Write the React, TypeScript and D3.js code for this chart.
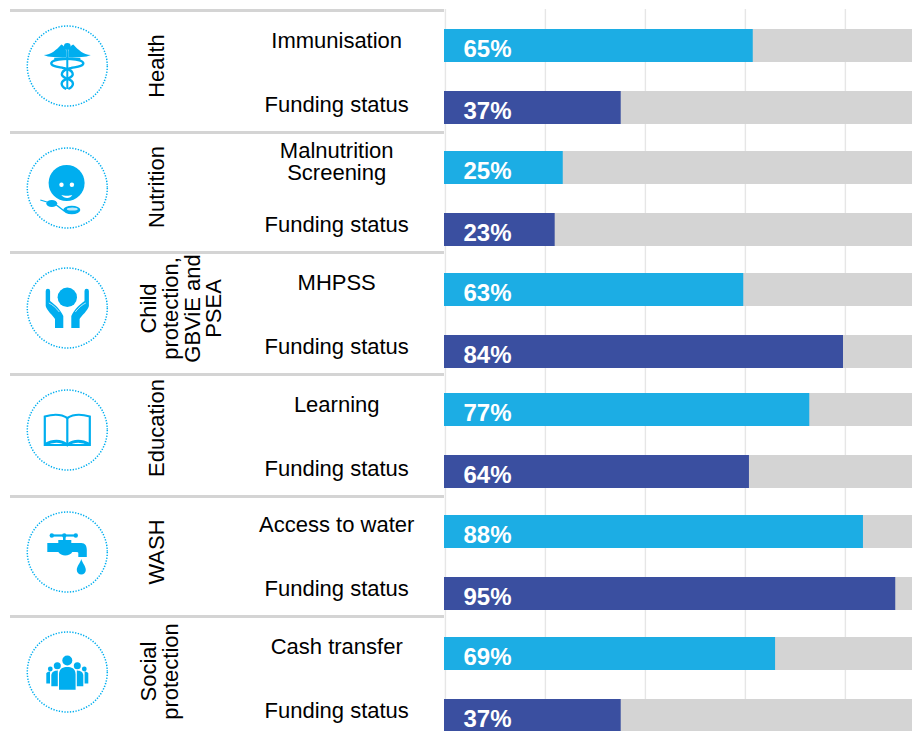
import React from "react";
import * as d3 from "d3";

const sectorLines = [["Health"], ["Nutrition"], ["Child", "protection,", "GBViE and", "PSEA"], ["Education"], ["WASH"], ["Social", "protection"]];
const indicatorLines = [["Immunisation"], ["Malnutrition", "Screening"], ["MHPSS"], ["Learning"], ["Access to water"], ["Cash transfer"]];
const fundingLabel = "Funding status";
const indicatorValues = [65, 25, 63, 76.9, 88.2, 69.7];
const fundingValues = [37.2, 23.3, 84, 64.2, 95, 37.2];
const indicatorText = ["65%", "25%", "63%", "77%", "88%", "69%"];
const fundingText = ["37%", "23%", "84%", "64%", "95%", "37%"];
const gridTicks = [0.3, 21.35, 42.4, 63.45, 84.5];

const CYAN = "#1cade4";
const NAVY = "#3a4fa0";
const ICON = "#00aeef";
const GREY = "#d4d4d4";
const FONT = "'Liberation Sans', Arial, sans-serif";
const SIZE = 22;

const x = d3.scaleLinear().domain([0, 100]).range([444, 919]);
const rowTop = [9, 131, 251, 373, 495, 615];
const barH = 33;
const indicatorBarY = [29, 151, 273, 393, 515, 637];
const fundingBarY = [91, 213, 335, 455, 577, 699];
const iconY = [66, 188, 308, 430, 552, 672];
const sectorY = [66, 187, 308.5, 428, 552, 671.5];
const sectorBase: Record<number, number[]> = { 1: [164.2], 4: [155.8, 178, 200, 221.2], 2: [155.8, 178] };
const indicatorBase = [[48], [158, 180], [290], [412], [532], [654]];
const fundingBase = [112, 232, 354, 476, 596, 718];

function Health() {
  const wing = "M-23.5,-11 C-16,-11.5 -11,-16 -6,-21.5 C-3,-20 -1,-17.5 -1,-13 L-1,-9 L-14,-9 C-18,-9 -21,-10 -23.5,-11 Z";
  return (
    <g>
      <circle cy={-19.5} r={3.4} fill={ICON} />
      <path d={wing} fill={ICON} />
      <path d={wing} fill={ICON} transform="scale(-1,1)" />
      <rect x={-1} y={-16} width={2} height={39} fill={ICON} />
      <path d="M13,-7 C6,-8 -15,-7.5 -16,-3 C-16.5,0.5 -8,1 -4,2 C7,4 8,10 1,12.5 C-8,15 -7,20 -1,23" fill="none" stroke={ICON} strokeWidth={2.4} />
      <path d="M-13,-7 C-6,-8 15,-7.5 16,-3 C16.5,0.5 8,1 4,2 C-7,4 -8,10 -1,12.5 C8,15 7,20 1,23" fill="none" stroke={ICON} strokeWidth={2.4} />
    </g>
  );
}
function Nutrition() {
  return (
    <g>
      <circle cx={-0.7} cy={-5} r={18} fill={ICON} />
      <circle cx={-5.8} cy={-3.3} r={2.2} fill="#fff" />
      <circle cx={4.6} cy={-3.3} r={2.2} fill="#fff" />
      <path d="M-6,7 C-3,8 2,8 5,7 C3,11 -3,11 -6,7 Z" fill="#fff" />
      <path d="M-27,12 L-17,15" stroke={ICON} strokeWidth={1.2} />
      <ellipse cx={-15.5} cy={15.5} rx={5.5} ry={3.5} fill={ICON} />
      <path d="M-11,17 C-8,19 -6,21 -3,23" stroke={ICON} strokeWidth={1.4} fill="none" />
      <ellipse cx={4.5} cy={22} rx={8.5} ry={4.2} fill={ICON} />
      <ellipse cx={5} cy={21} rx={5.5} ry={1.6} fill="#bfe8fa" />
    </g>
  );
}
function Hands() {
  const hand = "M-21.6,-17 A2.2,2.2 0 0 1 -17.2,-17 L-17.2,-7 C-13,-4 -7,1 -4,8 L-4,20 L-12.3,20 L-12.3,11 C-14,8 -21,2 -21.6,-2 Z";
  return (
    <g>
      <circle cy={-10.7} r={9.7} fill={ICON} />
      <path d={hand} fill={ICON} />
      <path d={hand} fill={ICON} transform="scale(-1,1)" />
      <path d="M-18.5,-5 C-15,-3.5 -11,0 -8,4" stroke="#fff" strokeWidth={0.7} fill="none" />
      <path d="M18.5,-5 C15,-3.5 11,0 8,4" stroke="#fff" strokeWidth={0.7} fill="none" />
    </g>
  );
}
function Book() {
  return (
    <g fill="none" stroke={ICON} strokeWidth={2.2}>
      <path d="M0,-12 C-6,-16 -14,-16 -22.5,-13.5 L-22.5,15 L22.5,15 L22.5,-13.5 C14,-16 6,-16 0,-12 Z" />
      <path d="M0,-12 L0,16" />
      <path d="M-22.5,14.5 C-14,10 -6,10.5 0,15 C6,10.5 14,10 22.5,14.5" strokeWidth={2.8} />
    </g>
  );
}
function Tap() {
  return (
    <g fill={ICON}>
      <path d="M-15.5,-16.5 L9,-16.5" stroke={ICON} strokeWidth={2.2} />
      <circle cx={-15.5} cy={-16.5} r={2.2} />
      <circle cx={-3} cy={-16.5} r={2.2} />
      <circle cx={8.5} cy={-16.5} r={2.2} />
      <rect x={-4.3} y={-16} width={2.6} height={6} />
      <path d="M-20,-9 L-9,-9 L-9,-12 L4,-12 L4,-9 L14,-9 C18,-9 19.5,-6 19.5,-2 L19.5,5 L11,5 L11,1 C11,0 10,0 5,0 C3,4 -6,5 -9,0 L-20,0 Z" />
      <path d="M14,7 C13,11 9.5,14 9.5,18 A4.5,4.5 0 0 0 18.5,18 C18.5,14 15,11 14,7 Z" />
    </g>
  );
}
function People() {
  return (
    <g fill={ICON}>
      <circle cy={-11.5} r={5} />
      <circle cx={-10} cy={-6.3} r={3.5} />
      <circle cx={10} cy={-6.3} r={3.5} />
      <circle cx={-17} cy={-3} r={2.4} />
      <circle cx={17} cy={-3} r={2.4} />
      <path d="M-21,1.5 C-20.5,0 -18.5,-0.5 -17.3,-0.5 L-17.3,11.5 L-21,11.5 Z" />
      <path d="M21,1.5 C20.5,0 18.5,-0.5 17.3,-0.5 L17.3,11.5 L21,11.5 Z" />
      <path d="M-16,3 C-15.5,-1 -11,-1.5 -9.5,-1.5 L-9.5,14.3 L-16,14.3 Z" />
      <path d="M16,3 C15.5,-1 11,-1.5 9.5,-1.5 L9.5,14.3 L16,14.3 Z" />
      <path d="M-8.3,2 C-8,-4 -4,-5 0,-5 C4,-5 8,-4 8.3,2 L8.3,17.7 L-8.3,17.7 Z" />
    </g>
  );
}
const icons = [Health, Nutrition, Hands, Book, Tap, People];

export default function App() {
  const svgStyle: React.CSSProperties = { position: "absolute", left: 0, top: 0, display: "block" };
  return (
    <svg width={912} height={731} viewBox="0 0 912 731" style={svgStyle} fontFamily={FONT}>
      <rect width={912} height={731} fill="#fff" />
      {gridTicks.map((t) => (
        <line key={t} x1={x(t)} x2={x(t)} y1={9} y2={731} stroke="#e6e6e6" strokeWidth={1.4} />
      ))}
      {rowTop.map((y) => (
        <rect key={y} x={10} y={y} width={434} height={3} fill={GREY} />
      ))}
      {sectorLines.map((lines, i) => {
        const Icon = icons[i];
        const base = sectorBase[lines.length];
        return (
          <g key={i}>
            <g transform={`translate(67.3,${iconY[i]})`}>
              <circle r={40} fill="none" stroke={ICON} strokeWidth={1.5} strokeDasharray="1.3 1.5" />
              <Icon />
            </g>
            {lines.map((l, j) => (
              <text key={l} transform={`translate(${base[j]},${sectorY[i]}) rotate(-90)`} textAnchor="middle" fontSize={SIZE} fill="#000">
                {l}
              </text>
            ))}
            {indicatorLines[i].map((l, j) => (
              <text key={l} x={336.7} y={indicatorBase[i][j]} textAnchor="middle" fontSize={SIZE} fill="#000">
                {l}
              </text>
            ))}
            <text x={336.7} y={fundingBase[i]} textAnchor="middle" fontSize={SIZE} fill="#000">
              {fundingLabel}
            </text>
            <rect x={x(0)} y={indicatorBarY[i]} width={x(100) - x(0)} height={barH} fill={GREY} />
            <rect x={x(0)} y={fundingBarY[i]} width={x(100) - x(0)} height={barH} fill={GREY} />
            <rect x={x(0)} y={indicatorBarY[i]} width={x(indicatorValues[i]) - x(0)} height={barH} fill={CYAN} />
            <rect x={x(0)} y={fundingBarY[i]} width={x(fundingValues[i]) - x(0)} height={barH} fill={NAVY} />
            <text x={463.5} y={indicatorBarY[i] + 28} fontSize={24} fontWeight={700} fill="#fff">
              {indicatorText[i]}
            </text>
            <text x={463.5} y={fundingBarY[i] + 28} fontSize={24} fontWeight={700} fill="#fff">
              {fundingText[i]}
            </text>
          </g>
        );
      })}
    </svg>
  );
}
